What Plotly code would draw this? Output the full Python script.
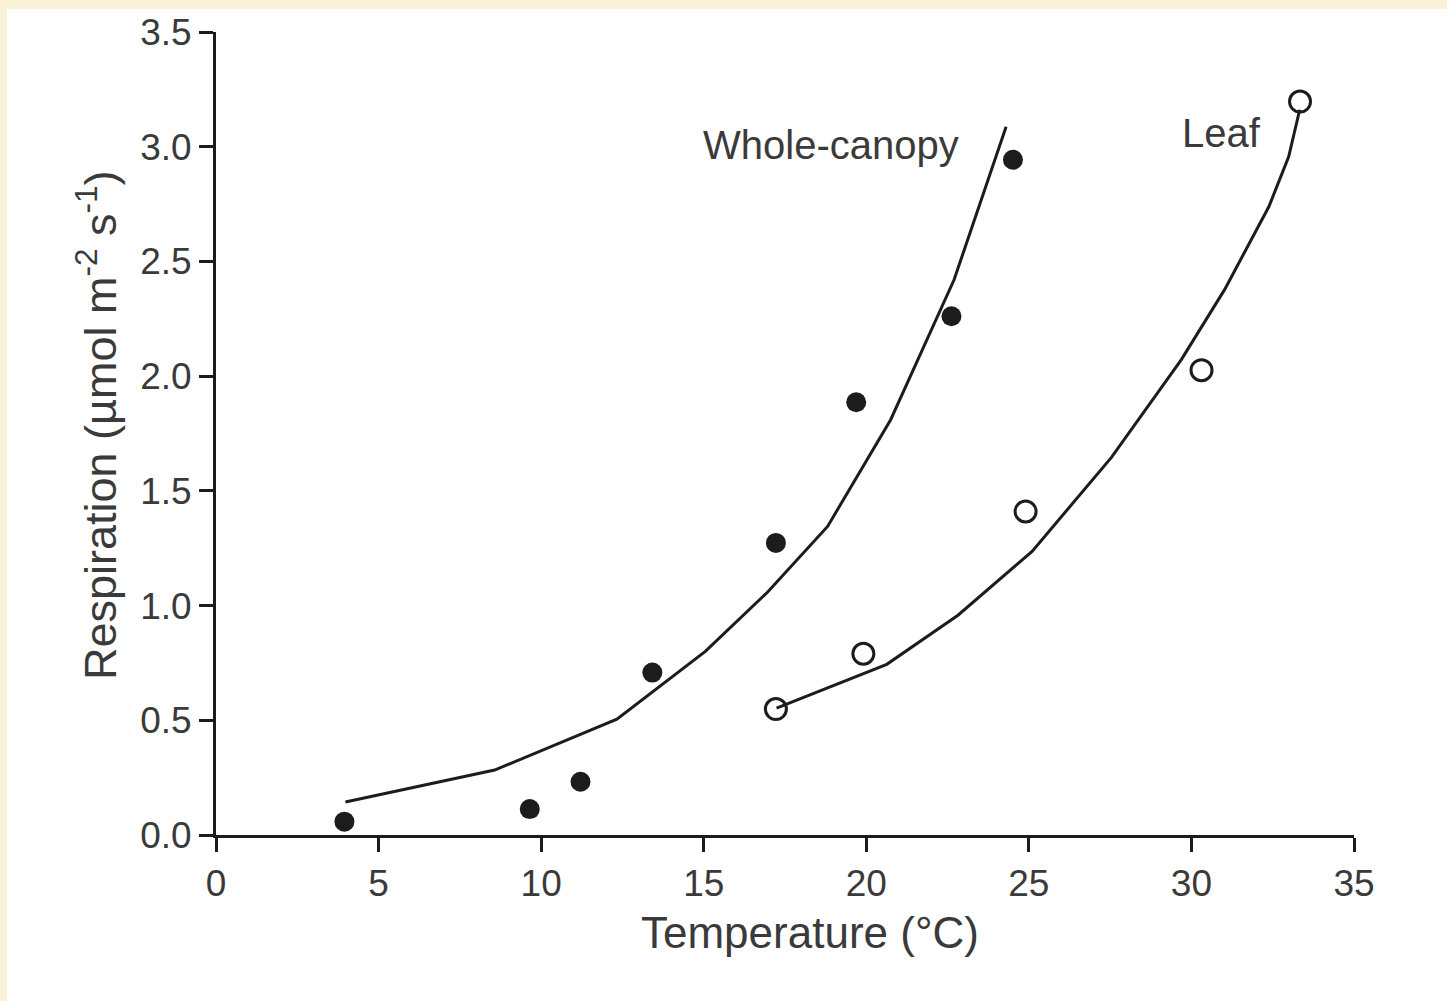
import plotly.graph_objects as go

# Observed respiration vs temperature
canopy_temp = [3.95, 9.65, 11.21, 13.42, 17.22, 19.69, 22.62, 24.51]
canopy_resp = [0.058, 0.113, 0.232, 0.708, 1.273, 1.886, 2.261, 2.943]

leaf_temp = [17.22, 19.91, 24.9, 30.31, 33.34]
leaf_resp = [0.549, 0.790, 1.41, 2.026, 3.197]

# Fitted response curves
canopy_fit_temp = [3.98, 8.57, 12.33, 15.05, 16.96, 18.81, 20.75, 22.70, 24.30]
canopy_fit_resp = [0.144, 0.283, 0.505, 0.80, 1.058, 1.345, 1.81, 2.42, 3.087]

leaf_fit_temp = [17.24, 20.63, 22.82, 25.10, 27.54, 29.69, 31.02, 32.38, 32.99, 33.33]
leaf_fit_resp = [0.553, 0.744, 0.958, 1.236, 1.646, 2.072, 2.377, 2.738, 2.956, 3.161]

x_ticks = [0, 5, 10, 15, 20, 25, 30, 35]
y_ticks = [0.0, 0.5, 1.0, 1.5, 2.0, 2.5, 3.0, 3.5]

W, H = 1447, 1001
L, R, T, B = 216, 93, 32, 166
PW, PH = W - L - R, H - T - B


def px(xp):
    return (xp - L) / PW


def py(yp):
    return (H - B - yp) / PH


INK = "#1c1c1c"
TEXT = "#3a3a3a"

fig = go.Figure()

fig.add_trace(go.Scatter(x=canopy_fit_temp, y=canopy_fit_resp, mode="lines",
                         line=dict(color=INK, width=3), showlegend=False))
fig.add_trace(go.Scatter(x=leaf_fit_temp, y=leaf_fit_resp, mode="lines",
                         line=dict(color=INK, width=3), showlegend=False))
fig.add_trace(go.Scatter(x=canopy_temp, y=canopy_resp, mode="markers",
                         marker=dict(symbol="circle", size=20, color=INK),
                         showlegend=False))
fig.add_trace(go.Scatter(x=leaf_temp, y=leaf_resp, mode="markers",
                         marker=dict(symbol="circle-open", size=21, color=INK,
                                     line=dict(width=3)),
                         showlegend=False))

font_family = "Liberation Sans, Arial, sans-serif"


def label(xp, yp, text, size, angle=0):
    fig.add_annotation(x=px(xp), y=py(yp), xref="paper", yref="paper",
                       xanchor="center", yanchor="middle",
                       text=text, showarrow=False, textangle=angle,
                       font=dict(family=font_family, size=size, color=TEXT))


label(831, 145, "Whole-canopy", 40)
label(1221, 133, "Leaf", 40)
label(810, 932, "Temperature (°C)", 44)
label(97, 425, "Respiration (µmol m<sup>-2</sup> s<sup>-1</sup>)", 45, -90)

# cream frame along the top and left edges
CREAM = "#f9f1d6"
fig.add_shape(type="rect", xref="paper", yref="paper", layer="below",
              x0=px(0), x1=px(W), y0=py(9), y1=py(0),
              fillcolor=CREAM, line=dict(width=0))
fig.add_shape(type="rect", xref="paper", yref="paper", layer="below",
              x0=px(0), x1=px(7), y0=py(H), y1=py(0),
              fillcolor=CREAM, line=dict(width=0))

axis_common = dict(showgrid=False, zeroline=False, showline=True,
                   linecolor=INK, linewidth=3, ticks="outside",
                   ticklen=14, tickwidth=3, tickcolor=INK,
                   tickfont=dict(family=font_family, size=37, color=TEXT))

fig.update_xaxes(range=[0, 35], tickvals=x_ticks, **axis_common)
fig.update_yaxes(range=[0, 3.5], tickvals=y_ticks, tickformat=".1f",
                 **axis_common)

fig.update_layout(width=W, height=H,
                  margin=dict(l=L, r=R, t=T, b=B, pad=0),
                  paper_bgcolor="white", plot_bgcolor="white")

fig.write_html("out.html")
